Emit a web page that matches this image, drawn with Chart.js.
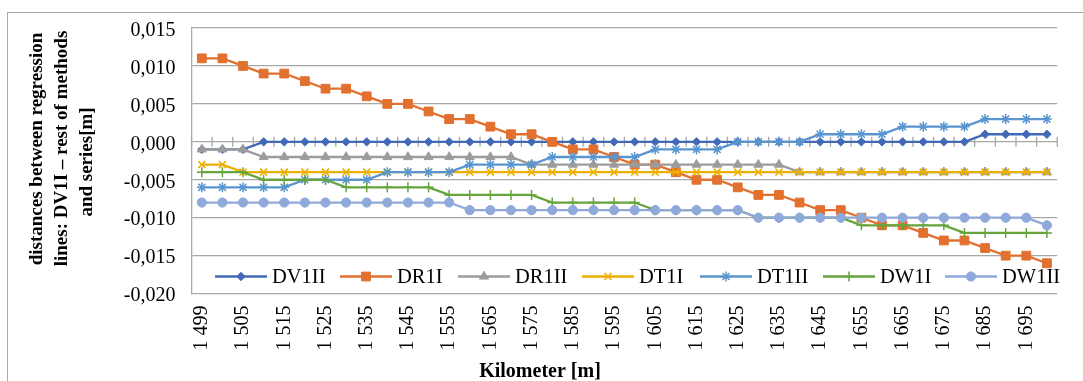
<!DOCTYPE html>
<html><head><meta charset="utf-8">
<script src="https://cdn.jsdelivr.net/npm/chart.js@4.4.1/dist/chart.umd.min.js"></script>
<style>
html,body{margin:0;padding:0;background:#fff;width:1083px;height:381px;overflow:hidden}
#frame{position:absolute;left:7px;top:12px;width:1100px;height:400px;border:1px solid #a9a9a9;box-sizing:border-box}
#wrap{position:absolute;left:0;top:0;width:1083px;height:381px}
</style></head><body>
<div id="frame"></div>
<div id="wrap"><canvas id="c" width="1083" height="381"></canvas></div>
<script>
// ---- data ----
const categories = ["1 499","1 500","1 505","1 510","1 515","1 520","1 525","1 530","1 535","1 540","1 545","1 550","1 555","1 560","1 565","1 570","1 575","1 580","1 585","1 590","1 595","1 600","1 605","1 610","1 615","1 620","1 625","1 630","1 635","1 640","1 645","1 650","1 655","1 660","1 665","1 670","1 675","1 680","1 685","1 690","1 695","1 700"];
const seriesNames = ["DV1II","DR1I","DR1II","DT1I","DT1II","DW1I","DW1II"];
const DV1II = [-0.001,-0.001,-0.001,0,0,0,0,0,0,0,0,0,0,0,0,0,0,0,0,0,0,0,0,0,0,0,0,0,0,0,0,0,0,0,0,0,0,0,0.001,0.001,0.001,0.001];
const DR1I  = [0.011,0.011,0.010,0.009,0.009,0.008,0.007,0.007,0.006,0.005,0.005,0.004,0.003,0.003,0.002,0.001,0.001,0.000,-0.001,-0.001,-0.002,-0.003,-0.003,-0.004,-0.005,-0.005,-0.006,-0.007,-0.007,-0.008,-0.009,-0.009,-0.010,-0.011,-0.011,-0.012,-0.013,-0.013,-0.014,-0.015,-0.015,-0.016];
const DR1II = [-0.001,-0.001,-0.001,-0.002,-0.002,-0.002,-0.002,-0.002,-0.002,-0.002,-0.002,-0.002,-0.002,-0.002,-0.002,-0.002,-0.003,-0.003,-0.003,-0.003,-0.003,-0.003,-0.003,-0.003,-0.003,-0.003,-0.003,-0.003,-0.003,-0.004,-0.004,-0.004,-0.004,-0.004,-0.004,-0.004,-0.004,-0.004,-0.004,-0.004,-0.004,-0.004];
const DT1I  = [-0.003,-0.003,-0.004,-0.004,-0.004,-0.004,-0.004,-0.004,-0.004,-0.004,-0.004,-0.004,-0.004,-0.004,-0.004,-0.004,-0.004,-0.004,-0.004,-0.004,-0.004,-0.004,-0.004,-0.004,-0.004,-0.004,-0.004,-0.004,-0.004,-0.004,-0.004,-0.004,-0.004,-0.004,-0.004,-0.004,-0.004,-0.004,-0.004,-0.004,-0.004,-0.004];
const DT1II = [-0.006,-0.006,-0.006,-0.006,-0.006,-0.005,-0.005,-0.005,-0.005,-0.004,-0.004,-0.004,-0.004,-0.003,-0.003,-0.003,-0.003,-0.002,-0.002,-0.002,-0.002,-0.002,-0.001,-0.001,-0.001,-0.001,0,0,0,0,0.001,0.001,0.001,0.001,0.002,0.002,0.002,0.002,0.003,0.003,0.003,0.003];
const DW1I  = [-0.004,-0.004,-0.004,-0.005,-0.005,-0.005,-0.005,-0.006,-0.006,-0.006,-0.006,-0.006,-0.007,-0.007,-0.007,-0.007,-0.007,-0.008,-0.008,-0.008,-0.008,-0.008,-0.009,-0.009,-0.009,-0.009,-0.009,-0.010,-0.010,-0.010,-0.010,-0.010,-0.011,-0.011,-0.011,-0.011,-0.011,-0.012,-0.012,-0.012,-0.012,-0.012];
const DW1II = [-0.008,-0.008,-0.008,-0.008,-0.008,-0.008,-0.008,-0.008,-0.008,-0.008,-0.008,-0.008,-0.008,-0.009,-0.009,-0.009,-0.009,-0.009,-0.009,-0.009,-0.009,-0.009,-0.009,-0.009,-0.009,-0.009,-0.009,-0.010,-0.010,-0.010,-0.010,-0.010,-0.010,-0.010,-0.010,-0.010,-0.010,-0.010,-0.010,-0.010,-0.010,-0.011];
const yMin = -0.020, yMax = 0.015, yStep = 0.005;
const yTitleLines = ["distances between regression","lines: DV1I \u2013 rest of methods","and series[m]"];
const xTitle = "Kilometer [m]";

// ---- styles ----
const seriesValues = [DV1II, DR1I, DR1II, DT1I, DT1II, DW1I, DW1II];
const styles = [
  {color:'#4169B6', point:'rectRot', r:4.2, bw:1},
  {color:'#E2702E', point:'rect', r:6.2, bw:1},
  {color:'#9C9C9C', point:'triangle', r:5.2, bw:1},
  {color:'#EBB000', point:'crossRot', r:5, bw:1.6},
  {color:'#5A95CF', point:'star', r:5, bw:1.5},
  {color:'#66A43E', point:'cross', r:5, bw:1.5},
  {color:'#8FA9DB', point:'circle', r:4.6, bw:1}
];
const legendStarts = [215, 340, 458, 582, 700, 823, 945];
const FONT = '"Liberation Serif", "Times New Roman", serif';
const GRID = '#A8A8A8';

const datasets = seriesNames.map((name, i) => ({
  label: name,
  data: seriesValues[i],
  borderColor: styles[i].color,
  backgroundColor: styles[i].color,
  pointBackgroundColor: styles[i].color,
  pointBorderColor: styles[i].color,
  pointStyle: styles[i].point,
  pointRadius: styles[i].r,
  pointBorderWidth: styles[i].bw,
  borderWidth: 2.3,
  tension: 0,
  fill: false,
  order: seriesNames.length - i
}));

const PLOT_LEFT = 191.5, PLOT_TOP = 24.3, PLOT_BOTTOM = 293.6;

const zeroTicks = {
  id: 'zeroTicks',
  beforeDatasetsDraw(chart) {
    const xs = chart.scales.x, ys = chart.scales.y, ctx = chart.ctx;
    const y0 = ys.getPixelForValue(0);
    ctx.save();
    ctx.strokeStyle = GRID; ctx.lineWidth = 1.3;
    ctx.beginPath();
    for (let i = 0; i <= categories.length; i++) {
      const x = xs.getPixelForValue(i - 0.5);
      ctx.moveTo(x, y0 - 5); ctx.lineTo(x, y0 + 5);
    }
    ctx.stroke();
    ctx.restore();
  }
};

function drawMarker(ctx, st, x, y) {
  if (Chart.helpers && Chart.helpers.drawPoint) {
    Chart.helpers.drawPoint(ctx, {pointStyle: st.point, rotation: 0, radius: st.r, borderWidth: st.bw}, x, y);
  } else {
    ctx.beginPath(); ctx.arc(x, y, st.r, 0, Math.PI * 2); ctx.fill();
  }
}

const customLegend = {
  id: 'customLegend',
  afterDraw(chart) {
    const ctx = chart.ctx;
    ctx.save();
    ctx.font = '20.5px ' + FONT;
    ctx.textBaseline = 'alphabetic';
    ctx.textAlign = 'left';
    const y = 276.5;
    chart.data.datasets.forEach((ds, i) => {
      const st = styles[i];
      const x = legendStarts[i];
      ctx.strokeStyle = st.color; ctx.lineWidth = 2.3;
      ctx.beginPath(); ctx.moveTo(x, y); ctx.lineTo(x + 52, y); ctx.stroke();
      ctx.fillStyle = st.color; ctx.strokeStyle = st.color; ctx.lineWidth = st.bw;
      drawMarker(ctx, st, x + 26, y);
      ctx.fillStyle = '#000';
      ctx.fillText(ds.label, x + 57, y + 6.5);
    });
    ctx.restore();
  }
};

const axisTitles = {
  id: 'axisTitles',
  afterDraw(chart) {
    const ctx = chart.ctx;
    ctx.save();
    ctx.fillStyle = '#000';
    ctx.font = 'bold 19px ' + FONT;
    ctx.textAlign = 'center';
    ctx.textBaseline = 'alphabetic';
    const baseX = [41.5, 66.5, 91.5];
    const centerY = [149, 148.5, 162];
    yTitleLines.forEach((line, i) => {
      ctx.save();
      ctx.translate(baseX[i], centerY[i]);
      ctx.rotate(-Math.PI / 2);
      ctx.fillText(line, 0, 0);
      ctx.restore();
    });
    ctx.font = 'bold 20px ' + FONT;
    ctx.fillText(xTitle, 540, 377);
    ctx.restore();
  }
};

new Chart(document.getElementById('c'), {
  type: 'line',
  data: { labels: categories, datasets },
  options: {
    responsive: false,
    animation: false,
    devicePixelRatio: 1,
    layout: { padding: { left: 0, top: PLOT_TOP, right: 1.2, bottom: 0 } },
    plugins: { legend: { display: false }, tooltip: { enabled: false }, title: { display: false } },
    scales: {
      x: {
        type: 'category',
        offset: true,
        grid: { display: false, drawTicks: false },
        border: { display: false },
        ticks: {
          autoSkip: false, maxRotation: 90, minRotation: 90, padding: 12,
          color: '#000', font: { family: FONT, size: 20 },
          callback: function(value, index) { return index % 2 === 0 ? this.getLabelForValue(value) : ''; }
        },
        afterFit(scale) { scale.height = 381 - PLOT_BOTTOM; }
      },
      y: {
        min: yMin, max: yMax,
        grid: { color: GRID, lineWidth: 1.3, drawTicks: false },
        border: { display: true, color: GRID, width: 1.3 },
        ticks: {
          stepSize: yStep, padding: 16, labelOffset: 2.5,
          color: '#000', font: { family: FONT, size: 20 },
          callback: v => (Math.abs(v) < 1e-9 ? 0 : v).toFixed(3).replace('.', ',')
        },
        afterFit(scale) { scale.width = PLOT_LEFT; }
      }
    }
  },
  plugins: [zeroTicks, customLegend, axisTitles]
});
</script>
</body></html>
